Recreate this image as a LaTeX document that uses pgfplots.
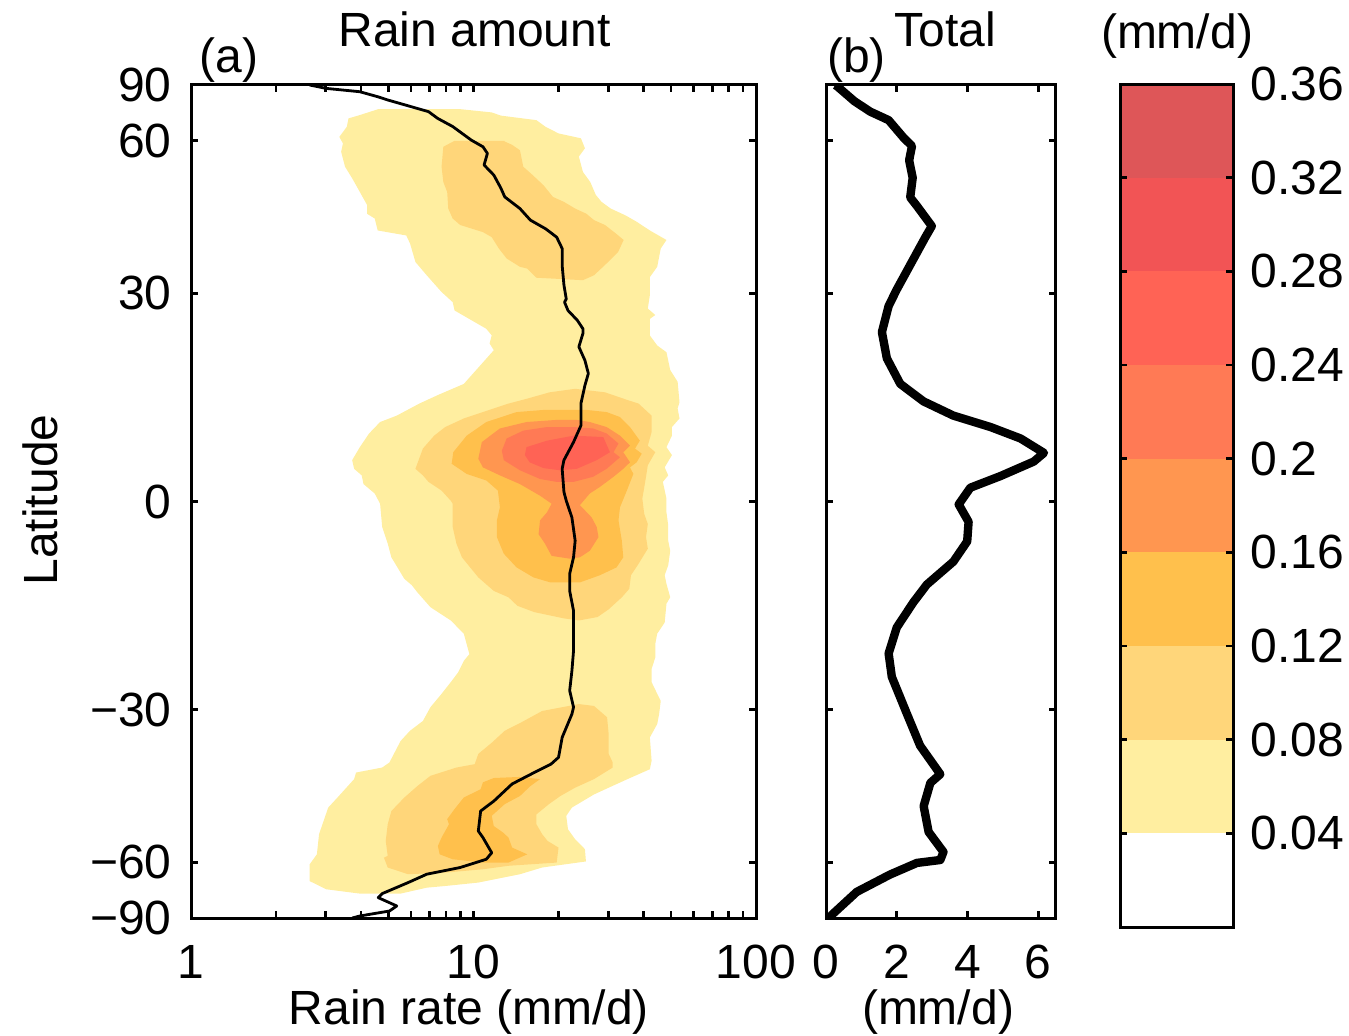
\documentclass[border=0pt]{standalone}
\usepackage{pgfplots}
\pgfplotsset{compat=1.18}
\usepackage{fontspec}
\setmainfont{Liberation Sans}
\definecolor{c1}{RGB}{255,238,160}
\definecolor{c2}{RGB}{255,214,122}
\definecolor{c3}{RGB}{255,192,76}
\definecolor{c4}{RGB}{255,150,80}
\definecolor{c5}{RGB}{255,122,85}
\definecolor{c6}{RGB}{255,99,85}
\definecolor{c7}{RGB}{242,84,85}
\definecolor{c8}{RGB}{222,86,88}
\newcommand\F{\fontsize{24}{28}\selectfont}
\pgfplotsset{
  myaxis/.style={
    scale only axis,
    tick align=inside,
    major tick length=3.5pt, minor tick length=3.5pt,
    every tick/.style={black, line width=1.3pt},
    axis line style={line width=1.5pt},
    tick label style={font=\F},
    xticklabel style={anchor=north, inner sep=0pt, yshift=-13.5pt},
    xtick pos=both, ytick pos=both,
    xticklabel pos=lower,
    clip=true,
  },
  lattrafo/.style={
    y coord trafo/.code={\pgfmathparse{sin(##1)}},
    y coord inv trafo/.code={\pgfmathparse{asin(##1)}},
    ymin=-90, ymax=90,
    ytick={-90,-60,-30,0,30,60,90},
    yticklabel pos=left,
    yticklabel style={anchor=east, inner sep=0pt, xshift=-9.5pt},
  },
}
\begin{document}
\F
\begin{tikzpicture}
\path (0,0) rectangle (674.5pt,517.5pt);
% ---------------- panel (a)
\begin{axis}[myaxis, lattrafo,
  at={(95.5pt,58.5pt)}, anchor=south west,
  width=282.5pt, height=416.5pt,
  xmode=log, xmin=1, xmax=100,
  xtick={1,10,100}, xticklabels={1,10,100},
  minor xtick={2,3,4,5,6,7,8,9,20,30,40,50,60,70,80,90},
  yticklabels={−90,−60,−30,0,30,60,90},
  axis on top]
% 0.04 - 0.08
\addplot[fill=c1, draw=none] coordinates {
(4.60,70.4) (3.96,68.1) (3.61,66.9) (3.56,64.1) (3.35,61.1) (3.45,59.3) (3.40,57.1) (3.51,53.5) (3.72,50.9) (3.90,48.7) (4.20,45.4) (4.20,43.7) (4.47,42.8) (4.58,40.6) (5.78,39.7) (5.96,38.3) (6.23,35.1) (6.83,32.9) (7.71,30.2) (8.44,28.6) (8.57,27.3) (11.1,24.5) (11.6,23.5) (11.4,22.3) (11.8,21.3) (9.24,16.4) (7.47,14.8) (6.43,13.6) (5.35,11.9) (4.67,11.0) (4.27,9.4) (3.96,7.5) (3.72,5.7) (3.78,4.5) (4.02,3.6) (4.08,2.4) (4.47,1.1) (4.67,-0.3) (4.75,-3.5) (4.97,-5.8) (5.12,-7.7) (5.69,-10.7) (6.05,-11.6) (6.33,-12.6) (7.04,-14.7) (8.31,-16.6) (9.24,-18.5) (9.67,-21.5) (9.24,-22.5) (8.83,-24.2) (8.31,-25.7) (7.71,-27.5) (7.04,-29.6) (6.62,-31.8) (5.96,-33.4) (5.52,-35.1) (5.04,-38.8) (4.75,-39.7) (3.84,-40.6) (3.78,-41.8) (3.30,-45.3) (3.06,-47.3) (2.84,-53.0) (2.79,-57.9) (2.63,-60.6) (2.63,-65.7) (3.01,-68.6) (3.96,-70.3) (5.52,-70.3)
(6.83,-68.0) (7.94,-67.4) (10.4,-66.2) (14.6,-63.5) (17.5,-61.5) (25.0,-59.8) (24.8,-56.6) (22.9,-54.2) (21.6,-51.9) (21.3,-49.0) (22.3,-47.3) (26.7,-44.7) (30.1,-43.4) (35.1,-41.8) (42.1,-40.0) (42.7,-38.5) (42.1,-34.5) (44.7,-32.3) (45.4,-30.7) (46.0,-28.6) (44.7,-27.5) (42.7,-25.7) (42.7,-23.7) (44.0,-22.0) (44.0,-20.0) (44.7,-18.5) (47.5,-16.9) (48.2,-14.2) (49.7,-13.3) (48.2,-11.4) (47.5,-10.2) (48.9,-8.8) (49.7,-6.8) (48.9,-5.4) (48.9,-3.3) (48.2,-1.5) (48.2,0.4) (46.8,2.7) (48.9,3.6) (47.5,4.7) (50.4,6.4) (48.2,7.5) (50.4,9.1) (50.4,10.3) (53.6,11.5) (52.8,12.9) (53.6,13.8) (52.8,16.7) (49.7,18.4) (48.2,21.0) (44.7,22.0) (42.1,23.5) (42.1,26.0) (44.0,26.6) (41.4,27.6) (42.1,29.7) (42.1,32.6) (44.7,34.3) (46.0,37.4) (48.2,38.9) (42.1,40.6) (37.8,42.2) (34.5,43.4) (30.6,44.7) (28.4,46.0) (27.1,47.4) (25.9,50.1) (24.4,52.3) (23.6,55.9) (24.8,58.0) (24.0,60.7) (20.0,62.1) (18.0,64.1) (16.7,66.3) (12.5,67.9) (11.6,69.1) (8.97,70.4)
} -- cycle;
% 0.08 - 0.12, northern
\addplot[fill=c2, draw=none] coordinates {
(8.57,60.0) (7.82,58.4) (7.71,53.5) (7.82,50.1) (8.07,48.0) (8.14,44.7) (8.44,42.8) (8.97,41.6) (10.8,40.3) (11.6,39.4) (12.3,37.4) (13.1,35.7) (14.6,34.3) (15.5,34.0) (16.7,32.5) (24.4,32.1) (26.7,32.9) (29.2,34.6) (32.5,36.8) (34.0,38.9) (32.0,40.0) (29.2,41.6) (26.7,42.5) (25.1,43.7) (22.9,44.7) (20.9,46.0) (19.1,47.0) (17.7,49.4) (16.2,51.6) (15.0,53.5) (14.8,55.5) (14.6,57.5) (13.7,58.9) (12.9,59.8) (12.9,60.0)
} -- cycle;
% 0.08 - 0.12, tropical
\addplot[fill=c2, draw=none] coordinates {
(22.9,15.7) (18.6,15.2) (15.5,14.3) (13.3,13.6) (10.8,12.4) (9.24,11.5) (7.94,10.3) (7.26,9.1) (6.62,7.3) (6.23,4.5) (6.62,3.6) (6.93,2.7) (7.71,1.5) (8.31,0.1) (8.44,-0.3) (8.44,-3.5) (8.70,-5.8) (9.10,-7.7) (10.4,-10.5) (11.8,-12.4) (13.3,-13.3) (14.3,-14.5) (16.4,-15.4) (20.9,-16.3) (23.6,-16.6) (27.5,-16.1) (30.1,-15.0) (33.5,-13.3) (35.6,-12.1) (36.1,-10.2) (38.4,-8.6) (41.4,-6.5) (40.8,-4.9) (41.4,-3.1) (40.2,-1.7) (39.6,0.4) (40.8,3.4) (41.4,5.0) (44.0,6.8) (41.4,7.7) (42.7,9.6) (42.7,11.9) (38.4,13.6) (35.1,14.1) (29.2,15.2)
} -- cycle;
% 0.08 - 0.12, southern
\addplot[fill=c2, draw=none] coordinates {
(23.6,-29.1) (17.5,-30.2) (14.8,-32.0) (12.9,-33.4) (11.6,-35.4) (10.4,-37.3) (10.1,-39.1) (8.70,-39.7) (7.04,-41.2) (6.33,-43.1) (5.69,-45.3) (5.12,-48.0) (4.97,-50.8) (4.89,-54.6) (4.97,-58.3) (4.82,-58.8) (4.97,-61.5) (5.87,-63.5) (7.94,-63.0) (10.8,-62.0) (13.3,-61.0) (19.7,-60.1) (20.0,-56.2) (18.3,-54.6) (17.5,-53.0) (16.7,-50.8) (16.7,-48.7) (18.5,-46.6) (20.3,-45.0) (22.9,-43.4) (26.7,-41.8) (31.1,-39.7) (31.1,-38.8) (30.1,-37.3) (30.1,-34.0) (29.7,-31.2) (26.7,-29.4)
} -- cycle;
% 0.12 - 0.16, tropical
\addplot[fill=c3, draw=none] coordinates {
(17.7,12.7) (14.2,12.4) (11.1,11.0) (9.46,9.1) (8.48,6.8) (8.37,5.2) (9.46,3.8) (11.1,2.9) (12.2,1.5) (12.4,-0.8) (12.1,-2.6) (12.1,-4.9) (12.8,-7.2) (14.2,-9.1) (16.3,-10.5) (18.7,-11.2) (23.8,-11.2) (28.0,-10.2) (32.1,-9.1) (33.9,-7.7) (33.5,-5.4) (32.6,-2.6) (33.0,-0.8) (34.9,1.5) (36.8,3.8) (35.8,4.7) (37.8,5.4) (39.4,6.6) (37.3,7.3) (38.8,8.4) (35.8,10.3) (33.0,11.7) (29.6,12.4) (25.2,12.7)
} -- cycle;
% 0.12 - 0.16, southern
\addplot[fill=c3, draw=none] coordinates {
(11.8,-41.6) (10.8,-42.4) (10.6,-43.7) (9.24,-45.3) (8.57,-47.6) (8.07,-49.7) (8.19,-50.8) (7.71,-53.8) (7.48,-55.8) (7.59,-57.9) (8.44,-59.2) (10.8,-60.1) (13.3,-60.1) (15.5,-57.9) (13.7,-56.2) (13.3,-53.8) (12.7,-52.6) (11.8,-51.2) (11.6,-49.0) (12.9,-46.6) (14.6,-45.0) (15.9,-43.1) (17.2,-41.8) (14.6,-41.4)
} -- cycle;
% 0.16 - 0.20
\addplot[fill=c4, draw=none] coordinates {
(19.7,11.3) (15.4,11.0) (12.4,10.1) (10.7,8.2) (10.4,5.9) (10.8,4.7) (12.4,3.6) (14.6,2.4) (17.2,0.8) (18.9,-0.3) (18.2,-1.5) (17.2,-2.6) (17.0,-4.5) (17.9,-5.8) (18.9,-7.5) (22.0,-7.9) (23.8,-7.7) (25.8,-6.8) (27.7,-4.9) (27.3,-3.5) (26.2,-2.2) (23.8,-0.5) (25.8,1.1) (28.0,2.0) (31.3,3.4) (33.9,4.5) (35.8,5.4) (33.9,6.8) (35.8,7.7) (33.0,9.1) (29.6,10.3) (25.8,11.0) (23.2,11.3)
} -- cycle;
% 0.20 - 0.24
\addplot[fill=c5, draw=none] coordinates {
(18.2,10.3) (15.0,9.8) (13.1,8.7) (12.6,7.0) (12.8,5.7) (14.6,4.3) (17.2,3.1) (19.7,2.7) (22.6,2.7) (26.5,3.4) (29.6,4.5) (33.0,6.1) (31.3,6.8) (32.6,8.0) (29.6,9.4) (26.5,10.1) (22.6,10.3)
} -- cycle;
% 0.24 - 0.28
\addplot[fill=c6, draw=none] coordinates {
(15.4,7.5) (18.2,8.4) (22.6,9.1) (28.8,8.9) (30.4,6.8) (27.3,5.7) (23.2,4.5) (20.2,4.3) (17.7,4.6) (15.8,5.4) (15.2,6.4)
} -- cycle;
% mean rain rate curve
\addplot[black, line width=1.4pt, line join=round] coordinates {
(2.63,90) (3.01,82.7) (3.96,79.7) (4.60,76.3) (4.97,74.6) (6.93,69.4) (7.47,66.9) (8.44,64.2) (9.82,60.2) (10.8,58.4) (11.2,56.7) (10.9,53.9) (11.8,51.6) (12.5,48.8) (12.9,47.0) (14.6,44.7) (15.9,42.5) (18.0,40.9) (19.7,39.4) (20.6,37.4) (20.6,34.5) (20.9,31.3) (21.3,29.1) (21.0,28.6) (21.6,27.3) (23.3,25.8) (24.4,24.5) (24.4,23.8) (23.6,21.8) (24.8,19.8) (25.5,17.9) (24.8,16.2) (24.0,13.6) (24.0,10.5) (22.6,8.2) (20.9,5.7) (20.6,4.5) (20.9,1.3) (21.3,0.1) (22.3,-2.2) (22.9,-5.4) (22.6,-7.7) (21.9,-10.0) (21.9,-12.4) (22.6,-15.2) (22.6,-18.1) (22.6,-21.0) (22.3,-24.0) (21.9,-27.0) (22.6,-29.6) (22.3,-30.7) (20.6,-34.5) (20.0,-37.9) (18.8,-39.1) (16.4,-40.6) (13.7,-42.7) (11.8,-46.0) (10.6,-48.0) (10.4,-52.3) (10.8,-53.8) (11.6,-57.5) (11.1,-59.2) (8.97,-61.5) (6.83,-63.5) (5.87,-66.2) (4.75,-70.3) (4.60,-72.0) (5.35,-76.2) (5.04,-79.5) (3.96,-84.4) (3.72,-90)
};
\end{axis}
% ---------------- panel (b)
\begin{axis}[myaxis, lattrafo,
  at={(413pt,58.5pt)}, anchor=south west,
  width=115pt, height=416.5pt,
  xmin=0, xmax=6.5,
  xtick={0,2,4,6}, xticklabels={0,2,4,6},
  yticklabels={}]
\addplot[black, line width=4.2pt, line join=round] coordinates {
(0.25,90) (0.30,86.4) (0.8,74.0) (1.25,69.4) (1.77,66.3) (2.19,60.9) (2.43,58.6) (2.35,55.0) (2.45,51.0) (2.38,46.9) (2.57,45.2) (2.99,41.4) (2.8,39.3) (2.0,30.6) (1.77,28.0) (1.58,24.0) (1.72,20.1) (2.1,16.4) (2.76,13.9) (3.6,11.9) (4.65,10.3) (5.5,8.7) (6.16,6.7) (5.87,5.5) (4.93,3.5) (4.08,1.9) (3.75,-0.4) (4.03,-2.8) (3.99,-5.5) (3.6,-8.3) (2.85,-11.5) (2.47,-14.0) (2.0,-17.6) (1.77,-21.4) (1.86,-24.9) (2.29,-30.7) (2.66,-35.9) (3.23,-40.9) (2.95,-42.5) (2.76,-47.0) (2.9,-52.5) (3.32,-57.3) (3.23,-59.4) (2.57,-60.2) (1.81,-63.6) (0.87,-69.6) (0.16,-83.1) (0.1,-90)
};
\end{axis}
% ---------------- colour bar
\begin{axis}[myaxis,
  at={(560pt,54pt)}, anchor=south west,
  width=56.5pt, height=421.5pt,
  xmin=0, xmax=1, ymin=0, ymax=0.36,
  xtick=\empty,
  ytick={0.04,0.08,0.12,0.16,0.2,0.24,0.28,0.32,0.36},
  yticklabels={0.04,0.08,0.12,0.16,0.2,0.24,0.28,0.32,0.36},
  yticklabel pos=right,
  yticklabel style={anchor=west, inner sep=0pt, xshift=8.5pt},
  axis on top]
\addplot[fill=c1, draw=none] coordinates {(0,0.04) (1,0.04) (1,0.08) (0,0.08)} -- cycle;
\addplot[fill=c2, draw=none] coordinates {(0,0.08) (1,0.08) (1,0.12) (0,0.12)} -- cycle;
\addplot[fill=c3, draw=none] coordinates {(0,0.12) (1,0.12) (1,0.16) (0,0.16)} -- cycle;
\addplot[fill=c4, draw=none] coordinates {(0,0.16) (1,0.16) (1,0.20) (0,0.20)} -- cycle;
\addplot[fill=c5, draw=none] coordinates {(0,0.20) (1,0.20) (1,0.24) (0,0.24)} -- cycle;
\addplot[fill=c6, draw=none] coordinates {(0,0.24) (1,0.24) (1,0.28) (0,0.28)} -- cycle;
\addplot[fill=c7, draw=none] coordinates {(0,0.28) (1,0.28) (1,0.32) (0,0.32)} -- cycle;
\addplot[fill=c8, draw=none] coordinates {(0,0.32) (1,0.32) (1,0.36) (0,0.36)} -- cycle;
\end{axis}
% ---------------- texts
\node[anchor=base, inner sep=0pt] at (237.25pt,494pt) {Rain amount};
\node[anchor=base, inner sep=0pt] at (472.5pt,494pt) {Total};
\node[anchor=base, inner sep=0pt] at (588.5pt,493pt) {(mm/d)};
\node[anchor=base, inner sep=0pt] at (114.5pt,481pt) {(a)};
\node[anchor=base, inner sep=0pt] at (428.25pt,481pt) {(b)};
\node[anchor=base, inner sep=0pt] at (234.5pt,5.5pt) {Rain rate (mm/d)};
\node[anchor=base, inner sep=0pt] at (469pt,5.5pt) {(mm/d)};
\node[rotate=90, anchor=center, inner sep=0pt] at (20pt,267.5pt) {Latitude};
\end{tikzpicture}
\end{document}
